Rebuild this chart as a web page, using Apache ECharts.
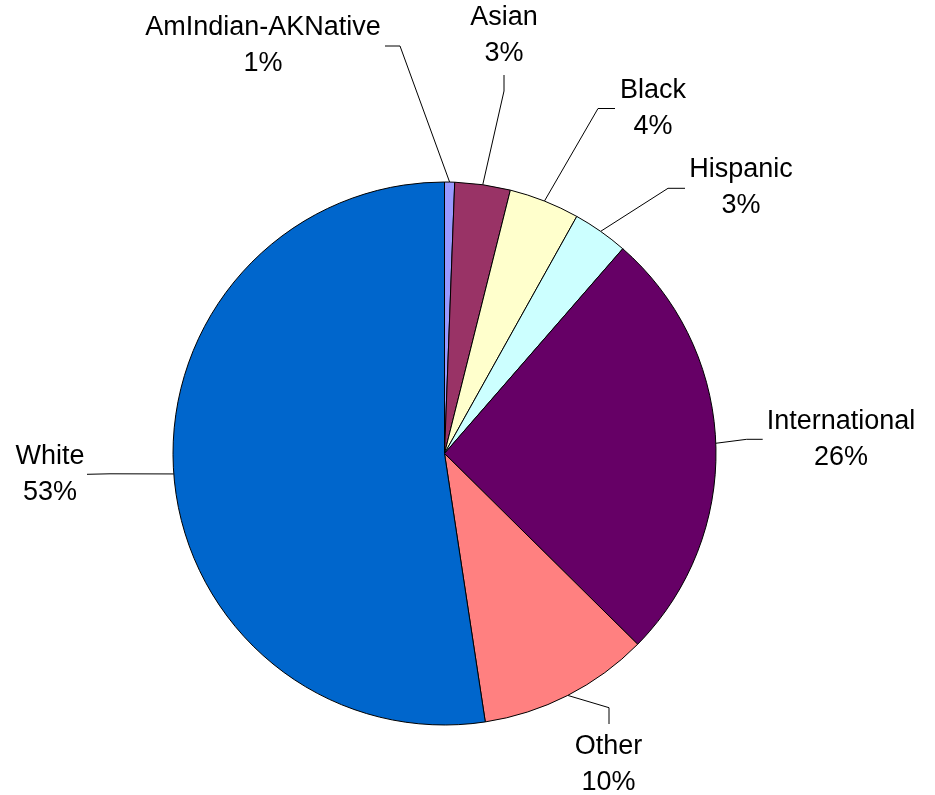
<!DOCTYPE html>
<html>
<head>
<meta charset="utf-8">
<script src="https://cdn.jsdelivr.net/npm/echarts@6/dist/echarts.min.js"></script>
<style>
html,body{margin:0;padding:0;background:#fff;}
#chart{width:935px;height:795px;}
</style>
</head>
<body>
<div id="chart"></div>
<script>
// Data
const categories = ['AmIndian-AKNative', 'Asian', 'Black', 'Hispanic', 'International', 'Other', 'White'];
const values = [0.6, 3.3, 4.2, 3.3, 26.0, 10.2, 52.4];
const colors = ['#9999FF', '#993366', '#FFFFCC', '#CCFFFF', '#660066', '#FF8080', '#0066CC'];

// Label layout (label centre, leader elbow, leader end)
const labelLayoutSpec = [
  {x: 263, y: 46, elbow: [400, 46], end: [385, 46]},
  {x: 504, y: 36, elbow: [504, 91], end: [504, 75]},
  {x: 653, y: 109, elbow: [598, 108.5], end: [615, 108.5]},
  {x: 741, y: 188, elbow: [668, 188.3], end: [685, 188.3]},
  {x: 841, y: 440, elbow: [746.7, 439.3], end: [762.7, 439.3]},
  {x: 608.5, y: 765, elbow: [609, 707.7], end: [609, 724]},
  {x: 50, y: 475, elbow: [110, 473.8], end: [87, 474.3]}
];

const chart = echarts.init(document.getElementById('chart'), null, {renderer: 'canvas'});
chart.setOption({
  animation: false,
  backgroundColor: '#ffffff',
  series: [{
    type: 'pie',
    center: [444.5, 453.5],
    radius: 271.5,
    startAngle: 90,
    clockwise: true,
    avoidLabelOverlap: false,
    percentPrecision: 0,
    data: categories.map((c, i) => ({name: c, value: values[i], itemStyle: {color: colors[i]}})),
    itemStyle: {borderColor: '#000000', borderWidth: 1},
    label: {
      show: true,
      position: 'outside',
      formatter: p => p.name + '\n' + p.percent + '%',
      fontFamily: '"Liberation Sans", Arial, sans-serif',
      fontSize: 27,
      lineHeight: 36,
      color: '#000000',
      align: 'center'
    },
    labelLine: {
      show: true,
      length: 20,
      length2: 20,
      smooth: false,
      lineStyle: {color: '#000000', width: 1}
    },
    labelLayout: function (params) {
      const s = labelLayoutSpec[params.dataIndex];
      const start = params.labelLinePoints ? params.labelLinePoints[0] : s.elbow;
      return {
        x: s.x,
        y: s.y,
        align: 'center',
        verticalAlign: 'middle',
        labelLinePoints: [start, s.elbow, s.end]
      };
    },
    emphasis: {disabled: true}
  }]
});
</script>
</body>
</html>
